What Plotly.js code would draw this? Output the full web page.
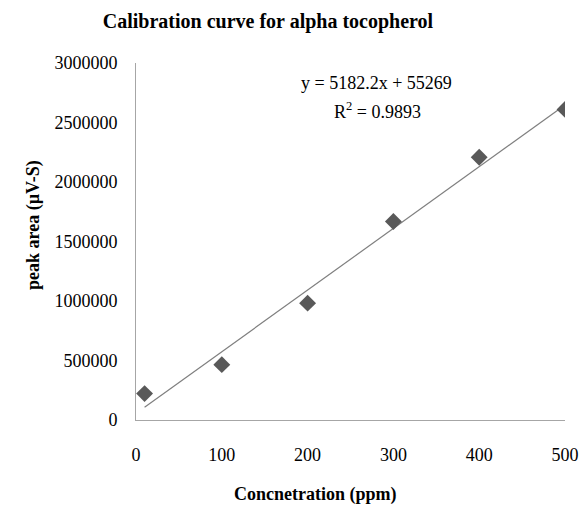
<!DOCTYPE html>
<html>
<head>
<meta charset="utf-8">
<script src="https://cdn.plot.ly/plotly-3.0.1.min.js"></script>
<style>html,body{margin:0;padding:0;background:#fff;}#chart{width:580px;height:506px;}</style>
</head>
<body>
<div id="chart"></div>
<script>
// Data
var concentration = [10, 100, 200, 300, 400, 500];          // ppm
var peakArea = [222000, 465000, 982000, 1668000, 2208000, 2610000]; // µV-S
var trendSlope = 5182.2;
var trendIntercept = 55269;
var trendX = [10, 500];
var xTicks = [0, 100, 200, 300, 400, 500];
var yTicks = [0, 500000, 1000000, 1500000, 2000000, 2500000, 3000000];

var trendY = trendX.map(function (x) { return trendSlope * x + trendIntercept; });

var serif = 'Liberation Serif';

var traces = [
  {
    x: trendX, y: trendY, type: 'scatter', mode: 'lines',
    line: {color: '#7f7f7f', width: 1.2}, hoverinfo: 'skip', showlegend: false
  },
  {
    x: concentration, y: peakArea, type: 'scatter', mode: 'markers',
    marker: {symbol: 'diamond', size: 13, color: '#595959', line: {width: 0}},
    showlegend: false
  }
];

var layout = {
  width: 580, height: 506,
  margin: {l: 136, r: 15, t: 63, b: 86},
  paper_bgcolor: '#ffffff', plot_bgcolor: '#ffffff',
  font: {family: serif, color: '#000', size: 18},
  title: {
    text: 'Calibration curve for alpha tocopherol',
    font: {family: serif, size: 20, color: '#000', weight: 'bold'},
    x: 268 / 580, xref: 'container', xanchor: 'center',
    y: 1 - 21 / 506, yref: 'container', yanchor: 'middle'
  },
  xaxis: {
    range: [0, 500], tickvals: xTicks, ticktext: xTicks.map(String),
    showgrid: false, zeroline: false, showline: true, linecolor: '#a6a6a6', linewidth: 1,
    ticks: '', ticklabelstandoff: 18,
    tickfont: {family: serif, size: 18, color: '#000'}
  },
  yaxis: {
    range: [0, 3000000], tickvals: yTicks, ticktext: yTicks.map(String),
    showgrid: false, zeroline: false, showline: true, linecolor: '#a6a6a6', linewidth: 1,
    ticks: '', ticklabelstandoff: 14,
    tickfont: {family: serif, size: 18, color: '#000'}
  },
  annotations: [
    {
      text: 'Concnetration (ppm)', xref: 'paper', yref: 'paper',
      x: (315 - 136) / 429, y: -(494 - 420) / 357, xanchor: 'center', yanchor: 'middle',
      showarrow: false, font: {family: serif, size: 18, color: '#000', weight: 'bold'}
    },
    {
      text: 'peak area (µV-S)', xref: 'paper', yref: 'paper',
      x: -(136 - 33) / 429, y: (420 - 225) / 357, xanchor: 'center', yanchor: 'middle',
      textangle: -90, showarrow: false, font: {family: serif, size: 18, color: '#000', weight: 'bold'}
    },
    {
      text: 'y = 5182.2x + 55269', xref: 'paper', yref: 'paper',
      x: (376 - 136) / 429, y: (420 - 83) / 357, xanchor: 'center', yanchor: 'middle',
      showarrow: false, font: {family: serif, size: 18, color: '#000'}
    },
    {
      text: 'R<sup>2</sup> = 0.9893', xref: 'paper', yref: 'paper',
      x: (377 - 136) / 429, y: (420 - 110) / 357, xanchor: 'center', yanchor: 'middle',
      showarrow: false, font: {family: serif, size: 18, color: '#000'}
    }
  ]
};

Plotly.newPlot('chart', traces, layout, {displayModeBar: false, staticPlot: true});
</script>
</body>
</html>
